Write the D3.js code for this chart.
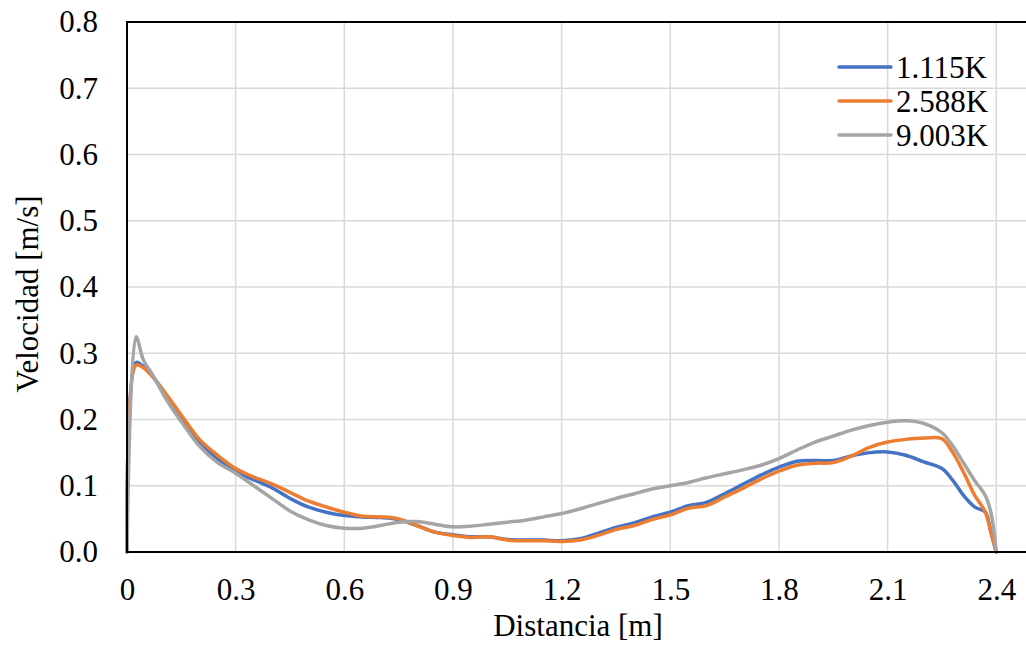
<!DOCTYPE html>
<html>
<head>
<meta charset="utf-8">
<script src="https://cdn.jsdelivr.net/npm/d3@7"></script>
<style>
  html, body { margin: 0; padding: 0; background: #fff; }
  svg { display: block; }
  svg text { font-family: 'Liberation Serif', 'Tinos', 'Times New Roman', 'DejaVu Serif', serif !important; fill: #000; }
</style>
</head>
<body>
<svg id="chart" width="1026" height="645" font-family="'Liberation Serif', 'DejaVu Serif', serif"></svg>
<script>
const distancia = [0, 0.025, 0.045, 0.07, 0.11, 0.16, 0.2, 0.25, 0.3, 0.35, 0.4, 0.45, 0.5, 0.55, 0.6, 0.65, 0.7, 0.75, 0.8, 0.85, 0.9, 0.95, 1.0, 1.05, 1.1, 1.15, 1.2, 1.25, 1.3, 1.35, 1.4, 1.45, 1.5, 1.55, 1.6, 1.65, 1.7, 1.75, 1.8, 1.85, 1.9, 1.95, 2.0, 2.05, 2.1, 2.15, 2.2, 2.25, 2.28, 2.31, 2.34, 2.37, 2.385, 2.4];
const v1115 = [0, 0.286, 0.28, 0.266, 0.234, 0.194, 0.165, 0.14, 0.122, 0.109, 0.097, 0.081, 0.068, 0.060, 0.055, 0.053, 0.052, 0.049, 0.040, 0.030, 0.026, 0.023, 0.023, 0.019, 0.018, 0.018, 0.017, 0.020, 0.028, 0.037, 0.044, 0.053, 0.060, 0.070, 0.075, 0.088, 0.102, 0.116, 0.128, 0.137, 0.138, 0.138, 0.145, 0.150, 0.151, 0.146, 0.136, 0.126, 0.108, 0.085, 0.068, 0.060, 0.03, 0];
const v2588 = [0, 0.282, 0.278, 0.265, 0.237, 0.199, 0.170, 0.146, 0.126, 0.113, 0.103, 0.090, 0.077, 0.068, 0.060, 0.054, 0.053, 0.050, 0.040, 0.030, 0.025, 0.022, 0.023, 0.018, 0.017, 0.017, 0.016, 0.018, 0.025, 0.034, 0.040, 0.049, 0.056, 0.066, 0.070, 0.083, 0.096, 0.110, 0.122, 0.131, 0.134, 0.135, 0.145, 0.158, 0.166, 0.170, 0.172, 0.171, 0.150, 0.120, 0.086, 0.060, 0.03, 0];
const v9003 = [0, 0.325, 0.29, 0.268, 0.229, 0.189, 0.160, 0.135, 0.119, 0.100, 0.081, 0.062, 0.049, 0.040, 0.036, 0.036, 0.040, 0.045, 0.046, 0.042, 0.038, 0.039, 0.042, 0.045, 0.048, 0.053, 0.058, 0.065, 0.073, 0.081, 0.088, 0.095, 0.100, 0.105, 0.112, 0.118, 0.124, 0.131, 0.141, 0.154, 0.166, 0.175, 0.184, 0.191, 0.196, 0.198, 0.194, 0.180, 0.160, 0.134, 0.108, 0.085, 0.06, 0];
const seriesNames = ["1.115K", "2.588K", "9.003K"];
const seriesColors = ["#4472C4", "#ED7D31", "#A5A5A5"];
const xTicks = [0, 0.3, 0.6, 0.9, 1.2, 1.5, 1.8, 2.1, 2.4];
const yTicks = [0, 0.1, 0.2, 0.3, 0.4, 0.5, 0.6, 0.7, 0.8];

const svg = d3.select("#chart");
const plotLeft = 127, plotTop = 22, plotBottom = 552;
const pxPerUnit = 362.2;
const x = d3.scaleLinear().domain([0, 2.7]).range([plotLeft, plotLeft + 2.7 * pxPerUnit]);
const y = d3.scaleLinear().domain([0, 0.8]).range([plotBottom, plotTop]);
const plotRight = x(2.7);
const FONT = "'Liberation Serif', 'DejaVu Serif', serif";
const FS = 31;

// gridlines
svg.append("g").selectAll("line").data(xTicks.slice(1)).join("line")
  .attr("x1", d => x(d)).attr("x2", d => x(d)).attr("y1", plotTop).attr("y2", plotBottom)
  .attr("stroke", "#d9d9d9").attr("stroke-width", 1.5);
svg.append("g").selectAll("line").data(yTicks.slice(1)).join("line")
  .attr("x1", plotLeft).attr("x2", plotRight).attr("y1", d => y(d)).attr("y2", d => y(d))
  .attr("stroke", "#d9d9d9").attr("stroke-width", 1.5);

// axes
const xAxis = d3.axisBottom(x).tickValues(xTicks).tickSize(0).tickPadding(26)
  .tickFormat(d => d === 0 ? "0" : d3.format(".1f")(d));
const gx = svg.append("g").attr("transform", `translate(0,${plotBottom})`).call(xAxis)
  .attr("font-family", FONT).attr("font-size", FS);
gx.select(".domain").remove();
gx.selectAll("text").attr("fill", "#000");

const yAxis = d3.axisLeft(y).tickValues(yTicks).tickSize(0).tickPadding(29)
  .tickFormat(d3.format(".1f"));
const gy = svg.append("g").attr("transform", `translate(${plotLeft},0)`).call(yAxis)
  .attr("font-family", FONT).attr("font-size", FS);
gy.select(".domain").remove();
gy.selectAll("text").attr("fill", "#000");

// lines
const line = d3.line().x(d => x(d[0])).y(d => y(d[1])).curve(d3.curveCatmullRom.alpha(0.5));
const allSeries = [v1115, v2588, v9003];
allSeries.forEach((vals, i) => {
  svg.append("path")
    .datum(distancia.map((dx, j) => [dx, vals[j]]))
    .attr("d", line)
    .attr("fill", "none")
    .attr("stroke", seriesColors[i])
    .attr("stroke-width", 3.5)
    .attr("stroke-linejoin", "round")
    .attr("stroke-linecap", "round");
});

// frame
svg.append("line").attr("x1", plotLeft).attr("x2", plotLeft).attr("y1", plotTop).attr("y2", plotBottom + 1)
  .attr("stroke", "#000").attr("stroke-width", 2);
svg.append("line").attr("x1", plotLeft - 1).attr("x2", plotRight).attr("y1", plotTop).attr("y2", plotTop)
  .attr("stroke", "#000").attr("stroke-width", 2);
svg.append("line").attr("x1", plotLeft - 1).attr("x2", plotRight).attr("y1", plotBottom).attr("y2", plotBottom)
  .attr("stroke", "#000").attr("stroke-width", 2);

// axis titles
svg.append("text").attr("x", 578).attr("y", 636).attr("text-anchor", "middle")
  .attr("font-family", FONT).attr("font-size", FS).text("Distancia [m]");
svg.append("text").attr("transform", "translate(38,294) rotate(-90)").attr("text-anchor", "middle")
  .attr("font-family", FONT).attr("font-size", FS).text("Velocidad [m/s]");

// legend
const legend = svg.append("g");
seriesNames.forEach((name, i) => {
  const ly = 67 + i * 34;
  legend.append("line").attr("x1", 839).attr("x2", 891).attr("y1", ly).attr("y2", ly)
    .attr("stroke", seriesColors[i]).attr("stroke-width", 3.5).attr("stroke-linecap", "round");
  legend.append("text").attr("x", 896).attr("y", ly).attr("dy", "0.35em")
    .attr("font-family", FONT).attr("font-size", FS).text(name);
});
</script>
</body>
</html>
